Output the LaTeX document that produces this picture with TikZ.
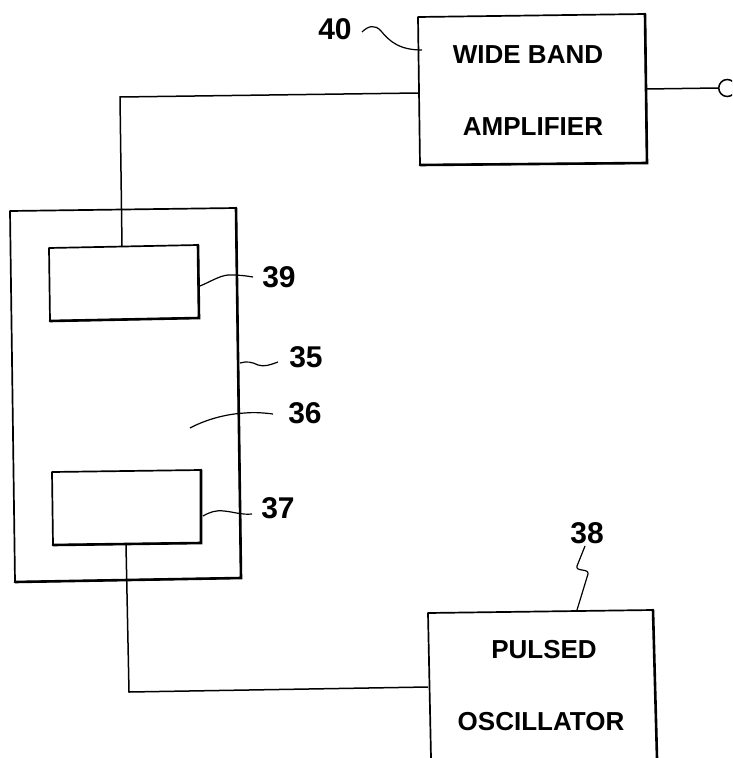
\documentclass[tikz,border=0pt]{standalone}
\usepackage{fontspec}
\setmainfont{Liberation Sans}
\tikzset{
  wire/.style={line width=1.5pt,black},
  box/.style={draw=black,line width=1.7pt,line join=round},
  heavy/.style={draw=black,line width=2.6pt,line cap=round},
  lab/.style={font=\fontsize{30}{30}\selectfont\bfseries,inner sep=0pt,text=black},
  boxtext/.style={font=\fontsize{26}{26}\selectfont\bfseries,inner sep=0pt,text=black},
  lead/.style={line width=1.2pt,black}
}
\begin{document}
\begin{tikzpicture}[x=1pt,y=-1pt]
\useasboundingbox (0,0) rectangle (732,758);
\clip (0,0) rectangle (732,758);
% outer substrate
\coordinate (o1) at (10,211);
\coordinate (o2) at (236,208);
\coordinate (o3) at (241,578);
\coordinate (o4) at (15,582);
\draw[box] (o1) -- (o2) -- (o3) -- (o4) -- cycle;
\draw[heavy] (o2) -- (o3) -- (o4);
% inner electrodes
\coordinate (t1) at (49,248);\coordinate (t2) at (198,245);\coordinate (t3) at (199,318);\coordinate (t4) at (50,321);
\draw[box] (t1) -- (t2) -- (t3) -- (t4) -- cycle;
\draw[heavy] (t2) -- (t3) -- (t4);
\coordinate (b1) at (52,472);\coordinate (b2) at (201,470);\coordinate (b3) at (201,543);\coordinate (b4) at (53,545);
\draw[box] (b1) -- (b2) -- (b3) -- (b4) -- cycle;
\draw[heavy] (b2) -- (b3) -- (b4);
% amplifier
\coordinate (a1) at (418,17);\coordinate (a2) at (645,14);\coordinate (a3) at (647,163);\coordinate (a4) at (420,165);
\draw[box] (a1) -- (a2) -- (a3) -- (a4) -- cycle;
\draw[heavy] (a2) -- (a3) -- (a4);
\node[boxtext] (amp1) at (528,55) {WIDE BAND};
\node[boxtext] (amp2) at (533,127) {AMPLIFIER};
% oscillator
\coordinate (p1) at (428,613);\coordinate (p2) at (653,610);
\draw[box] (431,758) -- (p1) -- (p2);
\draw[heavy] (p2) -- (657,758);
\node[boxtext] (os1) at (544,650) {PULSED};
\node[boxtext] (os2) at (541,722) {OSCILLATOR};
% wires
\coordinate (w1) at (120,97);\coordinate (w2) at (418,93);
\coordinate (w0) at (122,246);
\draw[wire] (w0) -- (w1) -- (w2);
\coordinate (w3) at (646,89);\coordinate (w4) at (718,88);
\draw[wire] (w3) -- (w4);
\node[draw=black,circle,line width=1.5pt,minimum size=17pt,inner sep=0pt,anchor=west] (term) at (w4) {};
\coordinate (w5) at (126,545);\coordinate (w6) at (129,692);\coordinate (w7) at (428,687);
\draw[wire] (w5) -- (w6) -- (w7);
% labels
\node[lab] (l40) at (335,29) {40};
\node[lab] (l39) at (279,277) {39};
\node[lab] (l35) at (306,357) {35};
\node[lab] (l36) at (305,413) {36};
\node[lab] (l37) at (278,508) {37};
\node[lab] (l38) at (587,533) {38};
% lead lines
\draw[lead] (362,32) .. controls (368,26) and (375,24) .. (381,31) .. controls (390,42) and (400,50) .. (422,50);
\draw[lead] (200,286) .. controls (212,281) and (222,274) .. (232,275) .. controls (240,275) and (247,276) .. (253,277);
\draw[lead] (240,363) .. controls (247,361) and (252,362) .. (258,365) .. controls (264,367) and (270,365) .. (278,362);
\draw[lead] (190,428) .. controls (205,420) and (225,414) .. (245,413) .. controls (255,412) and (265,413) .. (273,414);
\draw[lead] (203,516) .. controls (210,512) and (216,510) .. (224,511) .. controls (234,512) and (242,515) .. (252,514);
\draw[lead] (585,546) -- (577,566) .. controls (575,572) and (589,568) .. (588,574) -- (577,610);
\end{tikzpicture}
\end{document}
